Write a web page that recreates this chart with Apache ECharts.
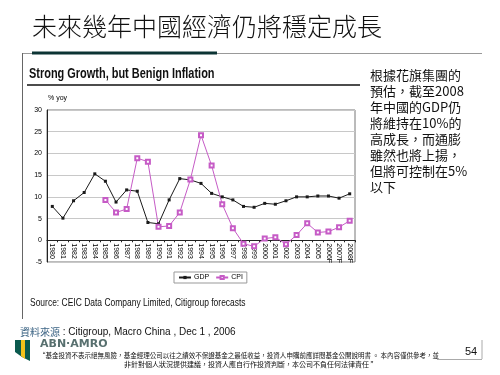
<!DOCTYPE html>
<html lang="zh-Hant">
<head>
    <meta charset="UTF-8">
    <title>未來幾年中國經濟仍將穩定成長</title>
    <script src="https://cdn.jsdelivr.net/npm/echarts@6/dist/echarts.min.js"></script>
    <style>
        html, body { margin: 0; padding: 0; background: #fff; }
    </style>
</head>
<body>
<div id="main" style="width: 500px;height:375px;"></div>

<script>
    // 年份與數據
    var years = ['1980', '1981', '1982', '1983', '1984', '1985', '1986', '1987', '1988', '1989',
        '1990', '1991', '1992', '1993', '1994', '1995', '1996', '1997', '1998', '1999',
        '2000', '2001', '2002', '2003', '2004', '2005', '2006F', '2007F', '2008F'];
    var gdp = [7.8, 5.1, 9.1, 11.0, 15.3, 13.6, 8.8, 11.6, 11.3, 4.1,
        3.8, 9.3, 14.2, 13.9, 13.1, 10.8, 10.0, 9.3, 7.8, 7.6,
        8.5, 8.3, 9.1, 10.0, 10.0, 10.2, 10.2, 9.7, 10.7];
    var cpi = [null, null, null, null, null, 9.3, 6.4, 7.2, 18.9, 18.1,
        3.1, 3.3, 6.4, 14.0, 24.2, 17.2, 8.3, 2.8, -0.8, -1.4,
        0.4, 0.7, -0.9, 1.2, 3.9, 1.8, 2.0, 3.0, 4.5];
    var yTicks = [-5, 30, 5];

    var notes = ['根據花旗集團的', '預估，截至2008', '年中國的GDP仍', '將維持在10%的',
        '高成長，而通膨', '雖然也將上揚，', '但將可控制在5%', '以下'];

    var chart = echarts.init(document.getElementById('main'));
    var cjk = '"Noto Sans CJK TC", sans-serif';
    var narrow = '"Liberation Sans Narrow", "Liberation Sans", sans-serif';
    var arial = '"Liberation Sans", Arial, sans-serif';

    // 繪圖區: 上 110, 下 262, 軸線放在 0 的位置
    var gridTop = 110, gridBottom = 262;
    var zeroOffset = (gridBottom - gridTop) * (0 - yTicks[0]) / (yTicks[1] - yTicks[0]);

    var option = {
        backgroundColor: '#fff',
        animation: false,
        grid: {
            left: 47,
            right: 145,
            top: gridTop,
            bottom: 375 - gridBottom,
            show: true,
            borderColor: '#777',
            borderWidth: 1
        },
        legend: {
            data: ['GDP', 'CPI'],
            left: 174,
            top: 272,
            padding: [2, 4],
            itemGap: 6,
            itemWidth: 12,
            itemHeight: 4,
            borderColor: '#999',
            borderWidth: 1,
            textStyle: { fontSize: 7, fontFamily: arial, color: '#000', padding: [0, 0, 0, -2] }
        },
        xAxis: {
            type: 'category',
            data: years,
            boundaryGap: true,
            offset: -zeroOffset,
            axisLine: { onZero: false, lineStyle: { color: '#222', width: 1 } },
            axisTick: { show: true, length: 2, lineStyle: { color: '#222' } },
            splitLine: { show: false },
            axisLabel: {
                rotate: -90,
                interval: 0,
                fontSize: 7,
                margin: 3,
                color: '#000',
                fontFamily: arial
            }
        },
        yAxis: {
            type: 'value',
            min: yTicks[0],
            max: yTicks[1],
            interval: yTicks[2],
            axisLine: { show: true, lineStyle: { color: '#222' } },
            axisTick: { show: false },
            axisLabel: { fontSize: 7, color: '#000', margin: 5, fontFamily: arial },
            splitLine: { lineStyle: { color: '#c8c8c8', width: 1 } }
        },
        series: [
            {
                name: 'GDP',
                type: 'line',
                data: gdp,
                symbol: 'rect',
                symbolSize: 3,
                itemStyle: { color: '#1a1a1a' },
                lineStyle: { color: '#1a1a1a', width: 1 }
            },
            {
                name: 'CPI',
                type: 'line',
                data: cpi,
                symbol: 'emptyRect',
                symbolSize: 4,
                itemStyle: { color: '#c65bc6', borderWidth: 1 },
                lineStyle: { color: '#c65bc6', width: 1 }
            }
        ],
        graphic: [
            // 標題
            {
                type: 'text', left: 32, top: 14,
                style: { text: '未來幾年中國經濟仍將穩定成長', font: '300 25px "Noto Sans CJK TC Light", ' + cjk, fill: '#111' }
            },
            { type: 'line', shape: { x1: 32, y1: 53, x2: 217, y2: 53 }, style: { stroke: '#0c3434', lineWidth: 3 } },
            { type: 'line', shape: { x1: 217, y1: 53.5, x2: 482, y2: 53.5 }, style: { stroke: '#999', lineWidth: 1 } },
            { type: 'line', shape: { x1: 22, y1: 53.5, x2: 32, y2: 53.5 }, style: { stroke: '#999', lineWidth: 1 } },
            { type: 'line', shape: { x1: 22.5, y1: 53, x2: 22.5, y2: 319 }, style: { stroke: '#666', lineWidth: 1 } },
            // 圖表標題
            {
                type: 'text', x: 29, y: 66, scaleX: 0.73,
                style: { text: 'Strong Growth, but Benign Inflation', font: 'bold 15px ' + narrow, fill: '#111' }
            },
            { type: 'line', shape: { x1: 27, y1: 85, x2: 360, y2: 85 }, style: { stroke: '#111', lineWidth: 1.5 } },
            {
                type: 'text', left: 48, top: 95,
                style: { text: '% yoy', font: '7px ' + arial, fill: '#000' }
            },
            {
                type: 'text', x: 30, y: 297, scaleX: 0.77,
                style: { text: 'Source: CEIC Data Company Limited, Citigroup forecasts', font: '11px ' + narrow, fill: '#111' }
            },
            // 右側說明
            {
                type: 'text', left: 370, top: 67,
                style: { text: notes.join('\n'), font: '13px ' + cjk, lineHeight: 16, fill: '#111' }
            },
            // 資料來源
            {
                type: 'text', left: 20, top: 327,
                style: {
                    text: '{a|資料來源}{b| : Citigroup, Macro China , Dec 1 , 2006}',
                    rich: {
                        a: { font: '10px ' + cjk, fill: '#3d6585' },
                        b: { font: '10px ' + arial, fill: '#111' }
                    }
                }
            },
            // ABN AMRO 標誌
            {
                type: 'polygon',
                shape: { points: [[15, 340], [30, 340], [30, 361], [22, 357], [15, 352]] },
                style: { fill: '#0b5a4e' }
            },
            {
                type: 'polygon',
                shape: { points: [[21, 340], [25, 340], [25, 359], [21, 356]] },
                style: { fill: '#f2c21b' }
            },
            {
                type: 'text', left: 40, top: 339,
                style: { text: 'ABN·AMRO', font: 'bold 11px "DejaVu Sans", sans-serif', fill: '#58706f' }
            },
            {
                type: 'text', x: 39, y: 352, scaleX: 0.93,
                style: {
                    text: '“基金投資不表示絕無風險，基金經理公司以往之績效不保證基金之最低收益，投資人申購前應詳閱基金公開說明書 。 本內容僅供參考，並',
                    font: '7px ' + cjk, fill: '#111'
                }
            },
            {
                type: 'text', left: 124, top: 361,
                style: {
                    text: '非針對個人狀況提供建議，投資人應自行作投資判斷，本公司不負任何法律責任 ”',
                    font: '7px ' + cjk, fill: '#111'
                }
            },
            {
                type: 'text', left: 465, top: 346,
                style: { text: '54', font: '11px ' + arial, fill: '#111' }
            },
            { type: 'line', shape: { x1: 482, y1: 340, x2: 482, y2: 359 }, style: { stroke: '#aaa', lineWidth: 1 } },
            { type: 'line', shape: { x1: 437, y1: 359.5, x2: 482, y2: 359.5 }, style: { stroke: '#aaa', lineWidth: 1 } }
        ]
    };
    chart.setOption(option);
</script>
</body>
</html>
